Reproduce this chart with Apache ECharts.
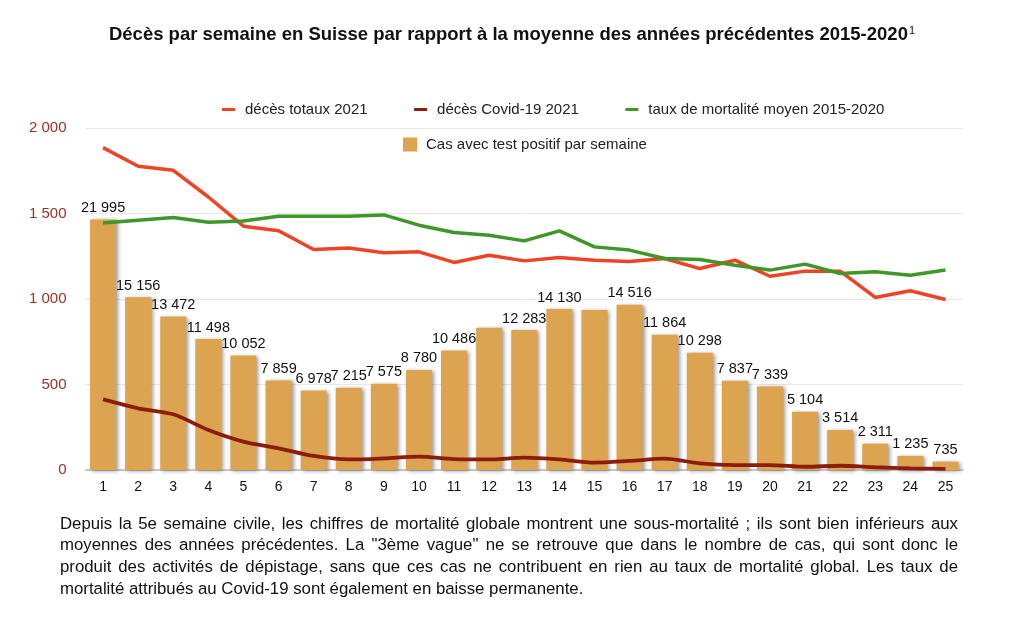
<!DOCTYPE html>
<html>
<head>
<meta charset="utf-8">
<script src="https://cdn.jsdelivr.net/npm/echarts@6/dist/echarts.min.js"></script>
<style>html,body{margin:0;padding:0;background:#fff}#c{width:1024px;height:624px}</style>
</head>
<body>
<div id="c"></div>
<script>
const weeks = ['1','2','3','4','5','6','7','8','9','10','11','12','13','14','15','16','17','18','19','20','21','22','23','24','25'];
const totalDeaths2021 = [1887,1778,1754,1598,1427,1400,1291,1300,1271,1277,1215,1257,1224,1244,1228,1220,1238,1179,1228,1134,1164,1164,1010,1049,998];
const covidDeaths2021 = [413,361,326,234,166,127,82,62,68,78,64,62,72,62,43,53,66,39,29,29,19,25,16,10,6];
const avgMortality = [1446,1462,1478,1450,1458,1485,1485,1485,1493,1433,1390,1374,1341,1400,1306,1287,1238,1232,1199,1170,1205,1150,1160,1140,1170];
const positiveCases = [21995,15156,13472,11498,10052,7859,6978,7215,7575,8780,10486,12480,12283,14130,14050,14516,11864,10298,7837,7339,5104,3514,2311,1235,735];
const unlabeledWeeks = ['12','15'];
const yTicks = [0,500,1000,1500,2000];
const titleText = 'Décès par semaine en Suisse par rapport à la moyenne des années précédentes 2015-2020';
const noteLines = [
  'Depuis la 5e semaine civile, les chiffres de mortalité globale montrent une sous-mortalité ; ils sont bien inférieurs aux',
  'moyennes des années précédentes. La "3ème vague" ne se retrouve que dans le nombre de cas, qui sont donc le',
  'produit des activités de dépistage, sans que ces cas ne contribuent en rien au taux de mortalité global. Les taux de',
  'mortalité attribués au Covid-19 sont également en baisse permanente.'
];
</script>
<script>
const fmt = v => String(v).replace(/\B(?=(\d{3})+(?!\d))/g, ' ');
const FONT = '"Liberation Sans", Arial, sans-serif';
const NOTE_SIZE = 16.8;
const chart = echarts.init(document.getElementById('c'), null, {renderer:'canvas'});
const barData = positiveCases.map((v,i) => unlabeledWeeks.includes(weeks[i]) ? {value:v, label:{show:false}} : v);

// justified paragraph (real text, word by word)
const ctx = document.createElement('canvas').getContext('2d');
ctx.font = NOTE_SIZE + 'px ' + FONT;
const NOTE_L = 60, NOTE_R = 958, NOTE_TOP = 524, NOTE_LH = 21.7;
const noteGraphics = [];
noteLines.forEach((line, li) => {
  const y = NOTE_TOP + li * NOTE_LH;
  const isLast = li === noteLines.length - 1;
  if (isLast) {
    noteGraphics.push({type:'text', x:NOTE_L, y:y, style:{text:line, font:NOTE_SIZE+'px '+FONT, fill:'#111', textVerticalAlign:'middle'}});
    return;
  }
  const words = line.split(' ');
  const widths = words.map(w => ctx.measureText(w).width);
  const total = widths.reduce((a,b)=>a+b,0);
  const gap = (NOTE_R - NOTE_L - total) / (words.length - 1);
  let x = NOTE_L;
  words.forEach((w,i) => {
    noteGraphics.push({type:'text', x:x, y:y, style:{text:w, font:NOTE_SIZE+'px '+FONT, fill:'#111', textVerticalAlign:'middle'}});
    x += widths[i] + gap;
  });
});

chart.setOption({
  animation:false,
  backgroundColor:'#fff',
  textStyle:{fontFamily:FONT},
  title:{
    text: titleText + '{sup|1}',
    left:'center', top:20,
    textStyle:{fontSize:18.5, fontWeight:'bold', color:'#111', fontFamily:FONT,
      rich:{sup:{fontSize:11, fontWeight:'normal', color:'#111', verticalAlign:'top', padding:[0,0,7,1]}}}
  },
  legend:[{
    data:['décès totaux 2021','décès Covid-19 2021','taux de mortalité moyen 2015-2020'],
    left:222, top:102, padding:0, icon:'rect', itemWidth:13, itemHeight:3, itemGap:46.5,
    textStyle:{fontSize:15, color:'#222', fontFamily:FONT, padding:[0,0,0,5]}
  },{
    data:['Cas avec test positif par semaine'],
    left:403, top:137, padding:0, icon:'rect', itemWidth:14, itemHeight:14,
    textStyle:{fontSize:15, color:'#222', fontFamily:FONT, padding:[0,0,0,4]}
  }],
  grid:{left:85.5, right:61, top:128.3, bottom:154, containLabel:false},
  xAxis:{
    type:'category', data:weeks, boundaryGap:true,
    axisLine:{lineStyle:{color:'#bbb', width:1.5}},
    axisTick:{show:false},
    axisLabel:{fontSize:14, color:'#111', margin:10, fontFamily:FONT}
  },
  yAxis:[{
    type:'value', min:yTicks[0], max:yTicks[yTicks.length-1], interval:500,
    axisLine:{show:false}, axisTick:{show:false},
    axisLabel:{fontSize:15, color:'#9a3224', margin:19, formatter:v=>fmt(v), fontFamily:FONT},
    splitLine:{lineStyle:{color:'#e8e8e8', width:1}}
  },{
    type:'value', min:0, max:30000, show:false, splitLine:{show:false}
  }],
  series:[{
    name:'Cas avec test positif par semaine', type:'bar', yAxisIndex:1, data:barData,
    barWidth:26, z:1,
    itemStyle:{color:'#dca451', shadowColor:'rgba(0,0,0,0.4)', shadowBlur:4, shadowOffsetX:2, shadowOffsetY:1},
    label:{show:true, position:'top', distance:4, fontSize:14.5, color:'#111', formatter:p=>fmt(p.value), fontFamily:FONT}
  },{
    name:'décès totaux 2021', type:'line', data:totalDeaths2021, symbol:'none', z:3,
    lineStyle:{color:'#ef4326', width:3.5}, itemStyle:{color:'#ef4326'}
  },{
    name:'décès Covid-19 2021', type:'line', data:covidDeaths2021, symbol:'none', z:3, smooth:0.3,
    lineStyle:{color:'#8c1c0c', width:3.8}, itemStyle:{color:'#8c1c0c'}
  },{
    name:'taux de mortalité moyen 2015-2020', type:'line', data:avgMortality, symbol:'none', z:3,
    lineStyle:{color:'#3f9629', width:3.5}, itemStyle:{color:'#3f9629'}
  }],
  graphic: noteGraphics
});
</script>
</body>
</html>
